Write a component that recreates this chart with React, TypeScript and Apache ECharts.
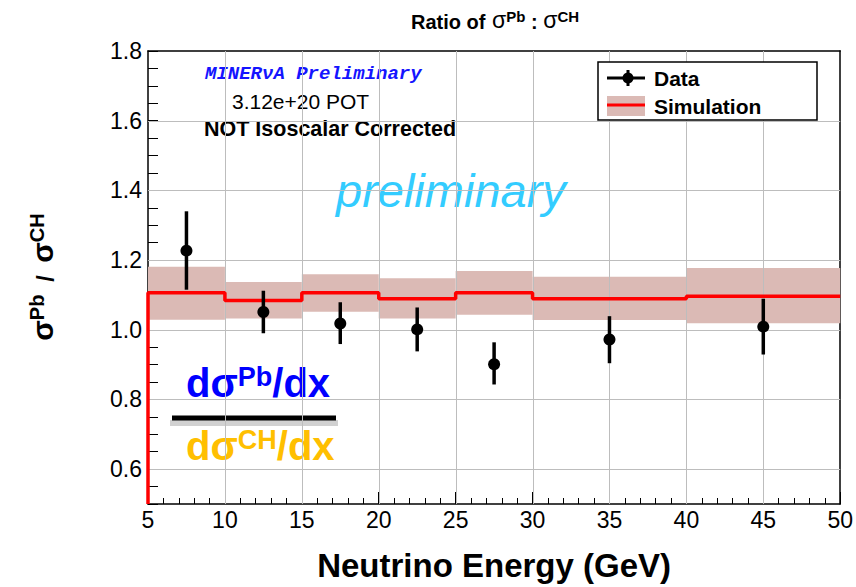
import React, { useEffect, useRef } from "react";
import * as echarts from "echarts";

// ---- data ----
const binEdges = [5, 10, 15, 20, 25, 30, 40, 50];
const simValues = [1.106, 1.084, 1.106, 1.089, 1.106, 1.089, 1.096];
const simBandLow = [1.029, 1.032, 1.052, 1.032, 1.043, 1.028, 1.019];
const simBandHigh = [1.181, 1.137, 1.159, 1.148, 1.169, 1.152, 1.177];
const dataX = [7.5, 12.5, 17.5, 22.5, 27.5, 35, 45];
const dataY = [1.227, 1.051, 1.018, 1.001, 0.901, 0.972, 1.009];
const dataErrLow = [1.115, 0.99, 0.959, 0.938, 0.843, 0.904, 0.929];
const dataErrHigh = [1.34, 1.112, 1.079, 1.064, 0.964, 1.039, 1.089];
const xGridLines = [10, 15, 20, 25, 30, 35, 40, 45];
const yGridLines = [0.6, 0.8, 1.0, 1.2, 1.4, 1.6];
const yLabelStep = 0.2;
const xRange = [5, 50];
const yRange = [0.5, 1.8];

const FONT = "'Liberation Sans', Arial, Helvetica, sans-serif";
const BAND = "#dbbab5";
const GRID_COLOR = "#bdbdbd";

export default function App() {
  const ref = useRef<HTMLDivElement>(null);
  useEffect(() => {
    if (!ref.current) return;
    const chart = echarts.init(ref.current, undefined, { renderer: "svg" });

    const bandData = simValues.map((_, i) => [binEdges[i], binEdges[i + 1], simBandLow[i], simBandHigh[i]]);
    const stepData: number[][] = [[binEdges[0], yRange[0]]];
    simValues.forEach((v, i) => {
      stepData.push([binEdges[i], v], [binEdges[i + 1], v]);
    });
    const errData = dataX.map((x, i) => [x, dataErrLow[i], dataErrHigh[i]]);
    const pts = dataX.map((x, i) => [x, dataY[i]]);
    const vGrid = xGridLines.map((v) => [v, yRange[0]]);
    const hGrid = yGridLines.map((v) => [xRange[0], v]);

    const option: any = {
      animation: false,
      backgroundColor: "#ffffff",
      textStyle: { fontFamily: FONT },
      grid: { left: 148, right: 15, top: 51, bottom: 81, containLabel: false },
      xAxis: [
        {
          type: "value",
          min: xRange[0],
          max: xRange[1],
          interval: 5,
          position: "bottom",
          axisLine: { show: true, onZero: false, lineStyle: { color: "#000", width: 1.5 } },
          axisTick: { show: true, inside: true, length: 12, lineStyle: { color: "#000", width: 1 } },
          minorTick: { show: true, splitNumber: 5, length: 6, lineStyle: { color: "#000", width: 1 } },
          axisLabel: { color: "#000", fontSize: 23, fontFamily: FONT, margin: 4 },
          splitLine: { show: false },
          name: "Neutrino Energy (GeV)",
          nameLocation: "middle",
          nameGap: 45,
          nameTextStyle: { color: "#000", fontSize: 33, fontWeight: "bold", fontFamily: FONT },
        },
        {
          type: "value",
          min: xRange[0],
          max: xRange[1],
          position: "top",
          axisLine: { show: true, onZero: false, lineStyle: { color: "#000", width: 1.5 } },
          axisTick: { show: false },
          axisLabel: { show: false },
          splitLine: { show: false },
        },
      ],
      yAxis: [
        {
          type: "value",
          min: yRange[0],
          max: yRange[1],
          interval: 0.05,
          axisLine: { show: true, onZero: false, lineStyle: { color: "#000", width: 1.5 } },
          axisTick: { show: true, inside: true, length: 10, lineStyle: { color: "#000", width: 1 } },
          axisLabel: {
            color: "#000",
            fontSize: 23,
            fontFamily: FONT,
            margin: 6,
            formatter: (v: number) => {
              const k = v / yLabelStep;
              return Math.abs(k - Math.round(k)) < 1e-6 ? v.toFixed(1) : "";
            },
          },
          splitLine: { show: false },
        },
        {
          type: "value",
          min: yRange[0],
          max: yRange[1],
          position: "right",
          axisLine: { show: true, onZero: false, lineStyle: { color: "#000", width: 1.5 } },
          axisTick: { show: false },
          axisLabel: { show: false },
          splitLine: { show: false },
        },
      ],
      series: [
        {
          type: "custom",
          name: "Simulation band",
          z: 1,
          data: bandData,
          renderItem: (_p: any, api: any) => {
            const a = api.coord([api.value(0), api.value(3)]);
            const b = api.coord([api.value(1), api.value(2)]);
            return {
              type: "rect",
              shape: { x: a[0], y: a[1], width: b[0] - a[0], height: b[1] - a[1] },
              style: { fill: BAND },
            };
          },
        },
        {
          type: "custom",
          name: "vertical grid",
          z: 2,
          silent: true,
          data: vGrid,
          renderItem: (_p: any, api: any) => {
            const a = api.coord([api.value(0), yRange[0]]);
            const b = api.coord([api.value(0), yRange[1]]);
            const x = Math.round(a[0]) + 0.5;
            return {
              type: "line",
              shape: { x1: x, y1: a[1], x2: x, y2: b[1] },
              style: { stroke: GRID_COLOR, lineWidth: 1 },
            };
          },
        },
        {
          type: "custom",
          name: "horizontal grid",
          z: 2,
          silent: true,
          data: hGrid,
          renderItem: (_p: any, api: any) => {
            const a = api.coord([xRange[0], api.value(1)]);
            const b = api.coord([xRange[1], api.value(1)]);
            const y = Math.round(a[1]) + 0.5;
            return {
              type: "line",
              shape: { x1: a[0], y1: y, x2: b[0], y2: y },
              style: { stroke: GRID_COLOR, lineWidth: 1 },
            };
          },
        },
        {
          type: "line",
          name: "Simulation",
          z: 3,
          data: stepData,
          symbol: "none",
          lineStyle: { color: "#ff0000", width: 3.5 },
          itemStyle: { color: "#ff0000" },
        },
        {
          type: "custom",
          name: "Data errors",
          z: 4,
          data: errData,
          renderItem: (_p: any, api: any) => {
            const a = api.coord([api.value(0), api.value(1)]);
            const b = api.coord([api.value(0), api.value(2)]);
            return {
              type: "line",
              shape: { x1: a[0], y1: a[1], x2: b[0], y2: b[1] },
              style: { stroke: "#000", lineWidth: 3.5 },
            };
          },
        },
        {
          type: "scatter",
          name: "Data",
          z: 5,
          data: pts,
          symbol: "circle",
          symbolSize: 12,
          itemStyle: { color: "#000", opacity: 1 },
        },
      ],
      graphic: [
        // title
        {
          type: "text",
          x: 495,
          y: 20,
          style: {
            text: "{b|Ratio of}  {s|σ}{sup|Pb}{b| : }{s|σ}{sup|CH}",
            align: "center",
            verticalAlign: "middle",
            rich: {
              b: { fontSize: 20, fontWeight: "bold", fontFamily: FONT, fill: "#000", verticalAlign: "bottom" },
              s: { fontSize: 23, fontFamily: FONT, fill: "#000", verticalAlign: "bottom" },
              sup: { fontSize: 15, fontWeight: "bold", fontFamily: FONT, fill: "#000", verticalAlign: "top" },
            },
          },
        },
        // y axis title
        {
          type: "text",
          x: 42,
          y: 277,
          rotation: Math.PI / 2,
          style: {
            text: "{s|σ}{sup|Pb}{n|  /  }{s|σ}{sup|CH}",
            align: "center",
            verticalAlign: "middle",
            rich: {
              s: { fontSize: 30, fontWeight: "bold", fontFamily: FONT, fill: "#000", verticalAlign: "bottom" },
              n: { fontSize: 23, fontWeight: "bold", fontFamily: FONT, fill: "#000", verticalAlign: "bottom" },
              sup: { fontSize: 20, fontWeight: "bold", fontFamily: FONT, fill: "#000", verticalAlign: "top" },
            },
          },
        },
        // annotations
        {
          type: "text",
          x: 205,
          y: 74,
          style: {
            text: "MINERνA Preliminary",
            fill: "#1414ff",
            font: "italic bold 19px 'Liberation Mono', 'DejaVu Sans Mono', monospace",
            verticalAlign: "middle",
          },
        },
        {
          type: "text",
          x: 232,
          y: 101,
          style: {
            text: "3.12e+20 POT",
            fill: "#000",
            font: `21px ${FONT}`,
            verticalAlign: "middle",
          },
        },
        {
          type: "text",
          x: 204,
          y: 129,
          style: {
            text: "NOT Isoscalar Corrected",
            fill: "#000",
            font: `bold 21.5px ${FONT}`,
            verticalAlign: "middle",
          },
        },
        {
          type: "text",
          x: 336,
          y: 190,
          style: {
            text: "preliminary",
            fill: "#33ccff",
            font: `italic 47px ${FONT}`,
            verticalAlign: "middle",
          },
        },
        // ratio sketch
        {
          type: "text",
          x: 186,
          y: 383,
          style: {
            text: "{m|dσ}{sup|Pb}{m|/dx}",
            verticalAlign: "middle",
            rich: {
              m: { fontSize: 40, fontWeight: "bold", fontFamily: FONT, fill: "#0000ff", verticalAlign: "bottom" },
              sup: { fontSize: 27, fontWeight: "bold", fontFamily: FONT, fill: "#0000ff", verticalAlign: "top" },
            },
          },
        },
        {
          type: "rect",
          shape: { x: 170, y: 420, width: 168, height: 6 },
          style: { fill: "rgba(0,0,0,0.18)" },
        },
        {
          type: "rect",
          shape: { x: 172, y: 415.5, width: 164, height: 5 },
          style: { fill: "#000" },
        },
        {
          type: "text",
          x: 186,
          y: 446,
          style: {
            text: "{m|dσ}{sup|CH}{m|/dx}",
            verticalAlign: "middle",
            rich: {
              m: { fontSize: 40, fontWeight: "bold", fontFamily: FONT, fill: "#ffbf00", verticalAlign: "bottom" },
              sup: { fontSize: 27, fontWeight: "bold", fontFamily: FONT, fill: "#ffbf00", verticalAlign: "top" },
            },
          },
        },
        // legend
        {
          type: "rect",
          shape: { x: 598, y: 62, width: 219, height: 58 },
          style: { fill: "#fff", stroke: "#000", lineWidth: 1.5 },
          z: 10,
        },
        {
          type: "line",
          shape: { x1: 607, y1: 78, x2: 645, y2: 78 },
          style: { stroke: "#000", lineWidth: 3 },
          z: 11,
        },
        {
          type: "line",
          shape: { x1: 628, y1: 70, x2: 628, y2: 86 },
          style: { stroke: "#000", lineWidth: 3 },
          z: 11,
        },
        {
          type: "circle",
          shape: { cx: 628, cy: 78, r: 5.5 },
          style: { fill: "#000" },
          z: 11,
        },
        {
          type: "text",
          x: 654,
          y: 78,
          style: { text: "Data", fill: "#000", font: `bold 21px ${FONT}`, verticalAlign: "middle" },
          z: 11,
        },
        {
          type: "rect",
          shape: { x: 607, y: 96, width: 38, height: 20 },
          style: { fill: BAND },
          z: 11,
        },
        {
          type: "line",
          shape: { x1: 607, y1: 105, x2: 645, y2: 105 },
          style: { stroke: "#ff0000", lineWidth: 3 },
          z: 12,
        },
        {
          type: "text",
          x: 654,
          y: 106,
          style: { text: "Simulation", fill: "#000", font: `bold 21px ${FONT}`, verticalAlign: "middle" },
          z: 11,
        },
      ],
    };
    chart.setOption(option);
    return () => chart.dispose();
  }, []);
  return (
    <div
      ref={ref}
      style={{ position: "absolute", left: 0, top: 0, width: 856, height: 587, background: "#fff" }}
    />
  );
}
